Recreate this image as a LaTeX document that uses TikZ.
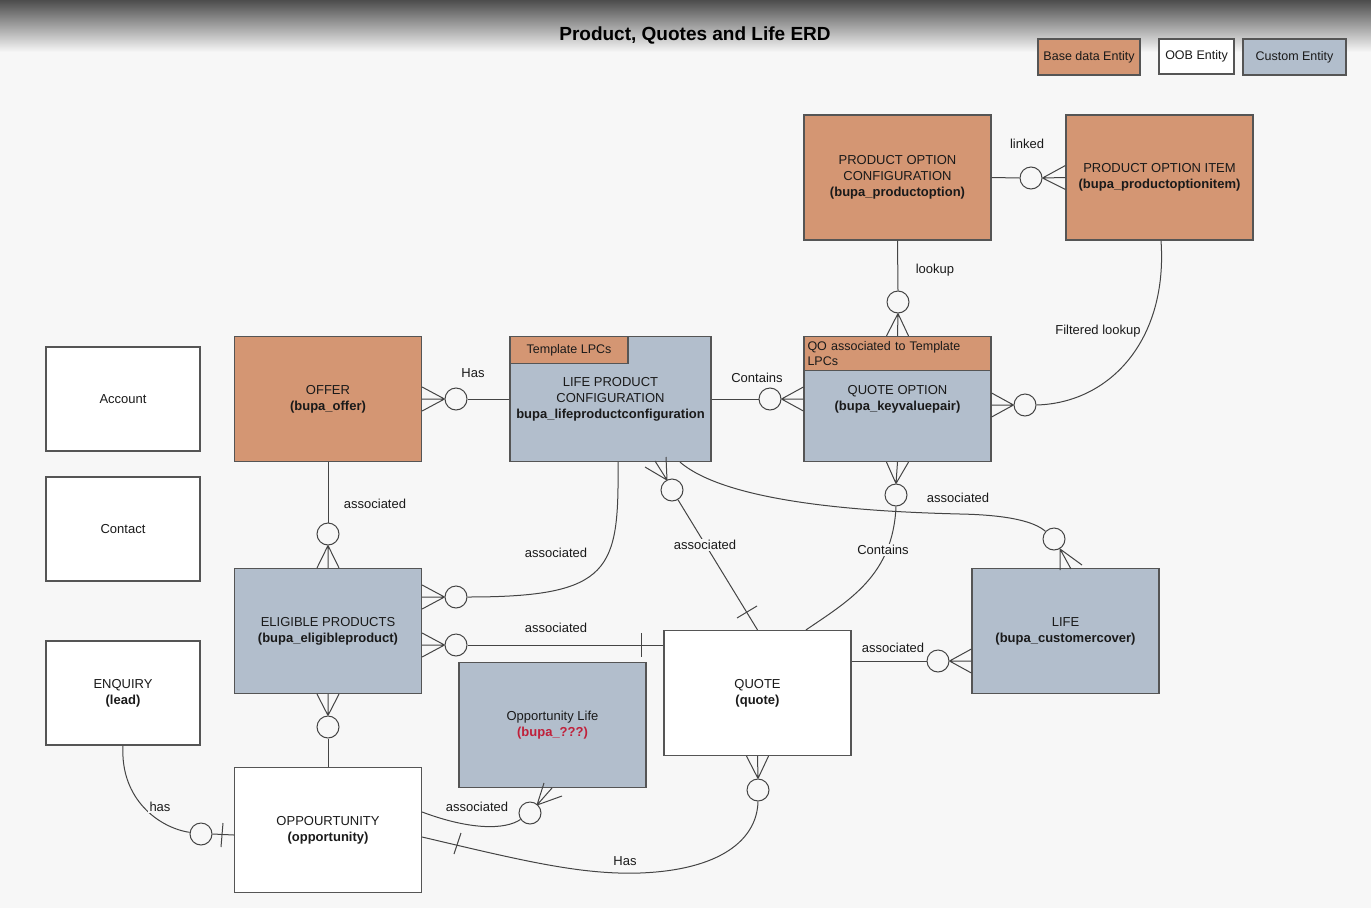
\documentclass[tikz,border=0pt]{standalone}
\usepackage{fontspec}
\setmainfont{Liberation Sans}
\usetikzlibrary{calc}
\definecolor{bg}{HTML}{F7F7F7}
\definecolor{orng}{HTML}{D49673}
\definecolor{blu}{HTML}{B2BECC}
\definecolor{edge}{HTML}{555555}
\definecolor{ln}{HTML}{444444}
\definecolor{redt}{HTML}{C0203A}
\definecolor{txt}{HTML}{1A1A1A}
\begin{document}
\begin{tikzpicture}[x=1pt,y=-1pt,
 ent/.style={draw=edge, line width=1.2pt, minimum width=187pt, minimum height=125pt, align=center, text=txt, font=\fontsize{13}{16}\selectfont, inner sep=0pt},
 base/.style={ent, fill=orng},
 oob/.style={ent, fill=white},
 cust/.style={ent, fill=blu},
 ring/.style={circle, draw=ln, line width=1pt, fill=bg, minimum size=22pt, inner sep=0pt},
 conn/.style={draw=ln, line width=1pt},
 lbl/.style={font=\fontsize{13}{15}\selectfont, text=txt, inner sep=1.5pt, fill=bg},
]
\useasboundingbox (0,0) rectangle (1371,908);
\fill[bg] (0,0) rectangle (1371,908);
\shade[top color=black!70, bottom color=bg] (0,0) rectangle (1371,52);

% title and legend
\node[font=\bfseries\fontsize{19}{22}\selectfont, text=black] (title) at (695,35) {Product, Quotes and Life ERD};
\node[base, minimum width=102pt, minimum height=36pt, font=\fontsize{12.5}{14}\selectfont] (lg1) at (1089,57) {Base data Entity};
\node[oob, minimum width=75pt, minimum height=35pt, font=\fontsize{12.5}{14}\selectfont] (lg2) at (1196.5,56.5) {OOB Entity};
\node[cust, minimum width=103pt, minimum height=36pt, font=\fontsize{12.5}{14}\selectfont] (lg3) at (1294.5,57) {Custom Entity};

% entities
\node[base] (poc) at (897.5,177.5) {PRODUCT OPTION\\CONFIGURATION\\\textbf{(bupa\_productoption)}};
\node[base] (poi) at (1159.5,177.5) {PRODUCT OPTION ITEM\\\textbf{(bupa\_productoptionitem)}};
\node[cust] (qo) at (897.5,399) {QUOTE OPTION\\\textbf{(bupa\_keyvaluepair)}};
\node[base, minimum height=34pt, anchor=north, text width=180pt, align=left, font=\fontsize{12.5}{15}\selectfont] (qoh) at (qo.north) {QO associated to Template\\LPCs};
\node[cust, minimum width=201pt] (lpc) at (610.5,399) {LIFE PRODUCT\\CONFIGURATION\\\textbf{bupa\_lifeproductconfiguration}};
\node[base, minimum width=118pt, minimum height=27pt, anchor=north west, font=\fontsize{12.5}{14}\selectfont] (tab) at (lpc.north west) {Template LPCs};
\node[base] (offer) at (328,399) {OFFER\\\textbf{(bupa\_offer)}};
\node[cust] (ep) at (328,631) {ELIGIBLE PRODUCTS\\\textbf{(bupa\_eligibleproduct)}};
\node[cust] (ol) at (552.5,725) {Opportunity Life\\\textcolor{redt}{\textbf{(bupa\_???)}}};
\node[oob] (quote) at (757.5,693) {QUOTE\\\textbf{(quote)}};
\node[cust] (life) at (1065.5,631) {LIFE\\\textbf{(bupa\_customercover)}};
\node[oob] (opp) at (328,830) {OPPOURTUNITY\\\textbf{(opportunity)}};
\node[oob, minimum width=154pt, minimum height=104pt] (acc) at (123,399) {Account};
\node[oob, minimum width=154pt, minimum height=104pt] (con) at (123,529) {Contact};
\node[oob, minimum width=154pt, minimum height=104pt] (enq) at (123,693) {ENQUIRY\\\textbf{(lead)}};

% rings
\node[ring] (c1) at (1031,178) {};
\node[ring] (c2) at (898,302) {};
\node[ring] (c3) at (1025,405) {};
\node[ring] (c4) at (770,399) {};
\node[ring] (c5) at (456,399) {};
\node[ring] (c6) at (328,534) {};
\node[ring] (c7) at (456,597) {};
\node[ring] (c8) at (456,645) {};
\node[ring] (c9) at (672,490) {};
\node[ring] (c10) at (896,495) {};
\node[ring] (c11) at (1054,539) {};
\node[ring] (c12) at (938,661) {};
\node[ring] (c13) at (328,727) {};
\node[ring] (c14) at (201,834) {};
\node[ring] (c15) at (530,813) {};
\node[ring] (c16) at (758,790) {};

% 1 poc - poi
\draw[conn] (poc.east) -- (c1.west);
\draw[conn] (c1.east) -- ($(poi.west)+(0,-12)$) (c1.east) -- (poi.west) (c1.east) -- ($(poi.west)+(0,12)$);
% 2 poc - qo
\draw[conn] (poc.south) -- (c2.north);
\draw[conn] (c2.south) -- ($(qoh.north)+(-11,0)$) (c2.south) -- (qoh.north) (c2.south) -- ($(qoh.north)+(11,0)$);
% 3 poi - qo filtered
\draw[conn] ($(poi.south)+(1.5,0)$) .. controls (1168,340) and (1110,403) .. (c3.east);
\draw[conn] (c3.west) -- ($(qo.east)+(0,-6)$) (c3.west) -- ($(qo.east)+(0,6)$) (c3.west) -- ($(qo.east)+(0,18)$);
% 4 lpc - qo
\draw[conn] (lpc.east) -- (c4.west);
\draw[conn] (c4.east) -- ($(qo.west)+(0,-12)$) (c4.east) -- (qo.west) (c4.east) -- ($(qo.west)+(0,12)$);
% 5 offer - lpc
\draw[conn] (c5.east) -- (lpc.west);
\draw[conn] (c5.west) -- ($(offer.east)+(0,-12)$) (c5.west) -- (offer.east) (c5.west) -- ($(offer.east)+(0,12)$);
% 6 offer - ep
\draw[conn] (offer.south) -- (c6.north);
\draw[conn] (c6.south) -- ($(ep.north)+(-11,0)$) (c6.south) -- (ep.north) (c6.south) -- ($(ep.north)+(11,0)$);
% 7 lpc - ep
\draw[conn] ($(lpc.south)+(7.5,0)$) .. controls (619,570) and (612,597) .. (c7.east);
\draw[conn] (c7.west) -- ($(ep.east)+(0,-46)$) (c7.west) -- ($(ep.east)+(0,-34)$) (c7.west) -- ($(ep.east)+(0,-22)$);
% 8 ep - quote
\draw[conn] (c8.east) -- (quote.west |- c8);
\draw[conn] (c8.west) -- ($(ep.east)+(0,2)$) (c8.west) -- ($(ep.east)+(0,14)$) (c8.west) -- ($(ep.east)+(0,26)$);
\draw[conn] (641,633) -- (641,657);
% 9 lpc - quote
\draw[conn] (c9) -- (quote.north);
\coordinate (t9) at (667,480);
\draw[conn] (t9) -- (645,467) (t9) -- (655,461) (t9) -- (666,457);
\draw[conn] (737,618) -- (757,606);
% 10 qo - quote
\draw[conn] (c10.north) -- ($(qo.south)+(-11,0)$) (c10.north) -- (qo.south) (c10.north) -- ($(qo.south)+(11,0)$);
\draw[conn] (c10.south) .. controls (893,575) and (850,600) .. ($(quote.north)+(48.5,0)$);
% 11 lpc - life
\draw[conn] ($(lpc.south)+(69.5,0)$) .. controls (730,505) and (880,512) .. (960,514) .. controls (1010,515) and (1035,522) .. (c11);
\coordinate (t11) at (1060,549);
\draw[conn] (t11) -- (1060,570) (t11) -- (1071,569) (t11) -- (1082,565);
% 12 quote - life
\draw[conn] ($(quote.east)+(0,-32)$) -- (c12.west);
\draw[conn] (c12.east) -- ($(life.west)+(0,18)$) (c12.east) -- ($(life.west)+(0,30)$) (c12.east) -- ($(life.west)+(0,42)$);
% 13 ep - opp
\draw[conn] (c13.north) -- ($(ep.south)+(-11,0)$) (c13.north) -- (ep.south) (c13.north) -- ($(ep.south)+(11,0)$);
\draw[conn] (c13.south) -- (opp.north);
% 14 enquiry - opp
\draw[conn] (enq.south) .. controls (120,800) and (160,828) .. (c14);
\draw[conn] (c14.east) -- ($(opp.west)+(0,5)$);
\draw[conn] (223,823) -- (221,847);
% 15 opp - opportunity life
\draw[conn] ($(opp.east)+(0,-18)$) .. controls (470,830) and (505,830) .. (c15);
\coordinate (t15) at (537,805);
\draw[conn] (t15) -- (544,783) (t15) -- (552,788) (t15) -- (562,796);
% 16 opp - quote
\draw[conn] ($(opp.east)+(0,7)$) .. controls (520,860) and (580,875) .. (640,873) .. controls (720,870) and (757,840) .. (c16.south);
\draw[conn] (c16.north) -- ($(quote.south)+(-11,0)$) (c16.north) -- (quote.south) (c16.north) -- ($(quote.south)+(11,0)$);
\draw[conn] (461,833) -- (454,854);

% labels
\node[lbl] (l1) at (1027,144) {linked};
\node[lbl] (l2) at (935,270) {lookup};
\node[lbl] (l3) at (1098,331) {Filtered lookup};
\node[lbl] (l4) at (757,378) {Contains};
\node[lbl] (l5) at (473,373) {Has};
\node[lbl] (l6) at (375,504) {associated};
\node[lbl] (l7) at (556,553) {associated};
\node[lbl] (l8) at (556,628) {associated};
\node[lbl] (l9) at (705,545) {associated};
\node[lbl] (l10) at (883,550) {Contains};
\node[lbl] (l11) at (958,498) {associated};
\node[lbl] (l12) at (893,648) {associated};
\node[lbl] (l13) at (160,807) {has};
\node[lbl] (l14) at (477,807) {associated};
\node[lbl] (l15) at (625,861) {Has};
\end{tikzpicture}
\end{document}
